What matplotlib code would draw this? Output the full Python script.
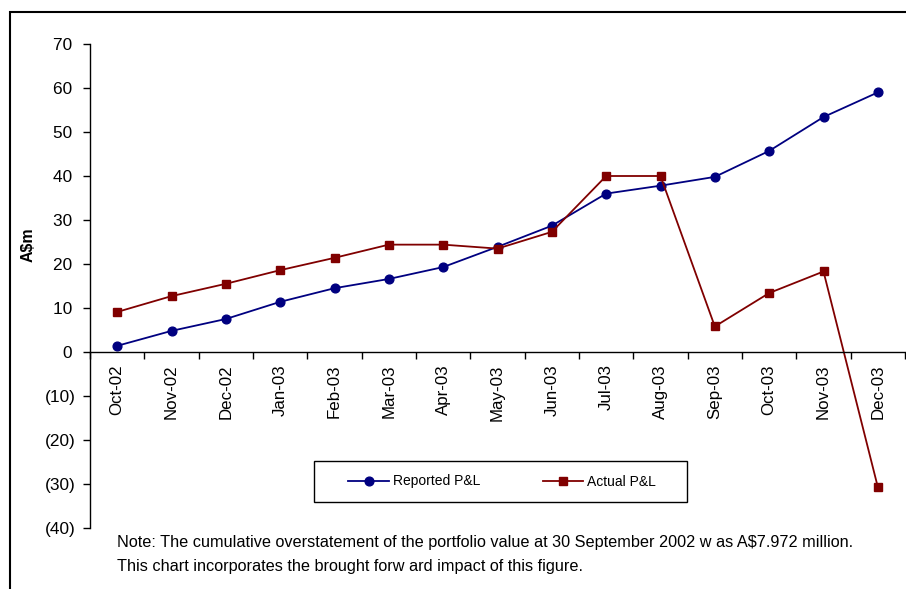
import matplotlib
matplotlib.use("Agg")
import matplotlib.pyplot as plt
from matplotlib.patches import Rectangle
from matplotlib.ticker import FuncFormatter, FixedLocator

plt.rcParams['font.family'] = ['Liberation Sans', 'DejaVu Sans']

months = ["Oct-02", "Nov-02", "Dec-02", "Jan-03", "Feb-03", "Mar-03", "Apr-03", "May-03",
          "Jun-03", "Jul-03", "Aug-03", "Sep-03", "Oct-03", "Nov-03", "Dec-03"]
reported = [1.4, 4.8, 7.5, 11.4, 14.5, 16.6, 19.3, 23.9, 28.7, 36.0, 37.8, 39.8, 45.7, 53.4, 59.0]
actual = [9.1, 12.7, 15.5, 18.6, 21.4, 24.4, 24.4, 23.5, 27.3, 40.0, 40.0, 5.8, 13.4, 18.3, -30.7]
yticks = [70, 60, 50, 40, 30, 20, 10, 0, -10, -20, -30, -40]

W, H = 906, 589
fig = plt.figure(figsize=(W / 100, H / 100), dpi=100)
ax = fig.add_axes([90 / W, 1 - 528 / H, (905 - 90) / W, (528 - 44) / H])

x = list(range(len(months)))
ax.plot(x, reported, color="#000080", lw=1.3, marker="o", ms=6.3, label="Reported P&L", clip_on=False)
ax.plot(x, actual, color="#800000", lw=1.3, marker="s", ms=6.2, label="Actual P&L", clip_on=False)

ax.set_xlim(-0.5, len(months) - 0.5)
ax.set_ylim(-40, 70)
ax.set_yticks(yticks)
ax.yaxis.set_major_formatter(FuncFormatter(lambda v, p: f"({abs(int(v))})" if v < 0 else f"{int(v)}\u2009"))
ax.set_xticks(x)
ax.set_xticklabels(months)
ax.xaxis.set_minor_locator(FixedLocator([i - 0.5 for i in range(len(months) + 1)]))
ax.tick_params(axis="x", which="major", length=0, pad=9, labelsize=12.2, labelrotation=90)
ax.tick_params(axis="x", which="minor", length=5, width=1, direction="out")
ax.tick_params(axis="y", length=5, width=1, direction="out", labelsize=12.4, pad=5)

for s in ["top", "right"]:
    ax.spines[s].set_visible(False)
ax.spines["bottom"].set_position(("data", 0))
ax.spines["left"].set_linewidth(1)
ax.spines["bottom"].set_linewidth(1)

fig.text(28 / W, 1 - 245 / H, "A$m", rotation=90, fontweight="bold", fontsize=11.5,
         ha="center", va="center")

# legend box and entries
fig.patches.append(Rectangle((314 / W, 1 - 502 / H), (687 - 314) / W, 41 / H,
                             transform=fig.transFigure, fill=False, edgecolor="black", lw=1))
leg = fig.legend(loc="center", bbox_to_anchor=(502 / W, 1 - 481.5 / H),
                 ncol=2, frameon=False, fontsize=10,
                 handlelength=2.95, columnspacing=4.5, borderpad=0.5, handletextpad=0.25)

fig.text(117 / W, 1 - 542 / H, "Note: The cumulative overstatement of the portfolio value at 30 September 2002 w as A$7.972 million.",
         fontsize=11.7, va="center", ha="left")
fig.text(117 / W, 1 - 566 / H, "This chart incorporates the brought forw ard impact of this figure.",
         fontsize=11.7, va="center", ha="left")

fig.patches.append(Rectangle((10 / W, -0.1), 1.2, 1 - 12 / H + 0.1, transform=fig.transFigure,
                             fill=False, edgecolor="black", lw=1.5))

fig.savefig("out.png", dpi=100)
